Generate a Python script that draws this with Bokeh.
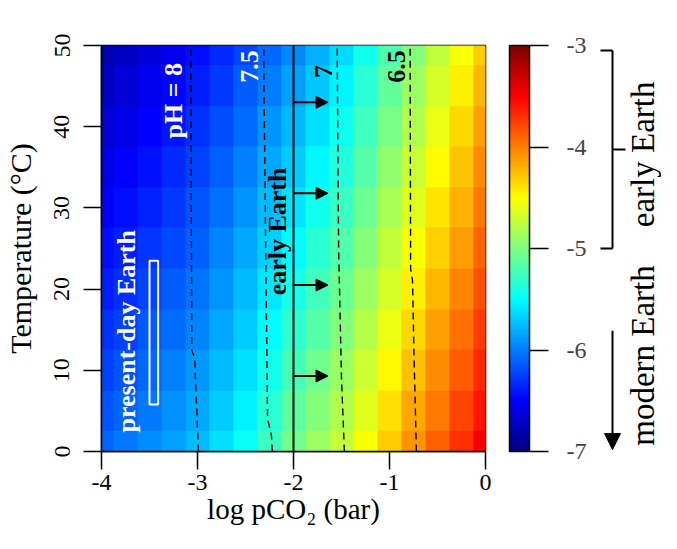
import math
import numpy as np
from bokeh.plotting import figure
from bokeh.layouts import row
from bokeh.models import (Range1d, LinearColorMapper, ColorBar, FixedTicker, Label,
                          Arrow, NormalHead, ColumnDataSource)
from bokeh.core.properties import value
from bokeh.embed import file_html
from bokeh.resources import INLINE

# ---------------- data ----------------
pco2_nodes = [-4.0, -3.75, -3.5, -3.25, -3.0, -2.75, -2.5, -2.25, -2.0,
              -1.75, -1.5, -1.25, -1.0, -0.75, -0.5, -0.25, 0.0]          # log pCO2 (bar)
temp_nodes = [0, 5, 10, 15, 20, 25, 30, 35, 40, 45, 50]                    # Temperature (C)
# log PO4 (molal), one list per temperature
po4_t00 = [-6.10, -6.03, -5.95, -5.86, -5.76, -5.62, -5.46, -5.26, -5.05, -4.88, -4.72, -4.52, -4.30, -4.08, -3.88, -3.69, -3.50]
po4_t05 = [-6.17, -6.10, -6.02, -5.93, -5.83, -5.69, -5.54, -5.34, -5.14, -4.97, -4.81, -4.61, -4.39, -4.17, -3.97, -3.77, -3.58]
po4_t10 = [-6.24, -6.17, -6.09, -6.00, -5.90, -5.76, -5.61, -5.43, -5.23, -5.06, -4.90, -4.70, -4.48, -4.26, -4.05, -3.86, -3.66]
po4_t15 = [-6.31, -6.24, -6.15, -6.07, -5.97, -5.84, -5.69, -5.51, -5.32, -5.16, -4.99, -4.79, -4.57, -4.35, -4.14, -3.94, -3.74]
po4_t20 = [-6.38, -6.31, -6.22, -6.14, -6.04, -5.91, -5.76, -5.59, -5.41, -5.25, -5.08, -4.88, -4.66, -4.44, -4.23, -4.02, -3.82]
po4_t25 = [-6.45, -6.38, -6.29, -6.21, -6.11, -5.98, -5.84, -5.68, -5.51, -5.34, -5.18, -4.98, -4.75, -4.53, -4.32, -4.11, -3.90]
po4_t30 = [-6.52, -6.44, -6.36, -6.27, -6.17, -6.05, -5.92, -5.76, -5.60, -5.43, -5.27, -5.07, -4.84, -4.62, -4.40, -4.19, -3.98]
po4_t35 = [-6.59, -6.51, -6.43, -6.34, -6.24, -6.12, -5.99, -5.84, -5.69, -5.52, -5.36, -5.16, -4.93, -4.71, -4.49, -4.27, -4.06]
po4_t40 = [-6.66, -6.58, -6.49, -6.41, -6.31, -6.20, -6.07, -5.92, -5.78, -5.62, -5.45, -5.25, -5.02, -4.80, -4.58, -4.35, -4.14]
po4_t45 = [-6.73, -6.65, -6.56, -6.48, -6.38, -6.27, -6.14, -6.01, -5.87, -5.71, -5.54, -5.34, -5.11, -4.89, -4.66, -4.44, -4.22]
po4_t50 = [-6.80, -6.72, -6.63, -6.55, -6.45, -6.34, -6.22, -6.09, -5.96, -5.80, -5.63, -5.43, -5.20, -4.98, -4.75, -4.52, -4.30]

# pH contours (dashed)
ph8_x = [-2.99, -3.03, -3.06, -3.07]
ph8_t = [0, 11.5, 12.5, 50]
ph75_x = [-2.22, -2.23, -2.27, -2.29, -2.31, -2.31]
ph75_t = [0, 2, 4, 25, 48, 50]
ph7_x = [-1.47, -1.50, -1.53, -1.545]
ph7_t = [0, 9, 25, 50]
ph65_x = [-0.72, -0.745, -0.76, -0.78, -0.785]
ph65_t = [0, 12, 21, 22.5, 50]

early_pco2 = -2.0                  # solid line
arrow_t = [43.0, 31.8, 20.5, 9.3]  # arrows pointing to higher pCO2
arrow_end = -1.64

box_left, box_right, box_bottom, box_top = -3.50, -3.41, 5.8, 23.5

x_ticks = [-4, -3, -2, -1, 0]
y_ticks = [0, 10, 20, 30, 40, 50]
cb_ticks = [-7, -6, -5, -4, -3]

early_range = [-3, -5]         # log PO4 bracket "early Earth"
early_mid = -4
modern_arrow = [-5.83, -7.03]  # log PO4 arrow "modern Earth"

# ---------------- jet palette ----------------
def jet_hex(t):
    r = min(max(1.5 - abs(4 * t - 3), 0), 1)
    g = min(max(1.5 - abs(4 * t - 2), 0), 1)
    b = min(max(1.5 - abs(4 * t - 1), 0), 1)
    return "#%02x%02x%02x" % (int(r * 255), int(g * 255), int(b * 255))

jet = [jet_hex(i / 255) for i in range(256)]
mapper = LinearColorMapper(palette=jet, low=-7, high=-3)

FONT = "Liberation Serif"

p = figure(width=590, height=533, output_backend="svg", toolbar_location=None,
           x_range=Range1d(-4, 0), y_range=Range1d(0, 50),
           min_border_left=101, min_border_right=105, min_border_top=45, min_border_bottom=82)
p.grid.visible = False
p.outline_line_color = "black"
p.outline_line_width = 1.5
p.background_fill_color = "white"

grid = np.array([po4_t00, po4_t05, po4_t10, po4_t15, po4_t20, po4_t25,
                 po4_t30, po4_t35, po4_t40, po4_t45, po4_t50])
dx = pco2_nodes[1] - pco2_nodes[0]
dt = temp_nodes[1] - temp_nodes[0]
p.image(image=[grid], x=pco2_nodes[0] - dx / 2, y=temp_nodes[0] - dt / 2,
        dw=(pco2_nodes[-1] - pco2_nodes[0]) + dx, dh=(temp_nodes[-1] - temp_nodes[0]) + dt,
        color_mapper=mapper)

for xs, ts in [(ph8_x, ph8_t), (ph75_x, ph75_t), (ph7_x, ph7_t), (ph65_x, ph65_t)]:
    p.line(xs, ts, line_color="black", line_dash="7 5", line_width=1.4)

p.line([early_pco2, early_pco2], [0, 50], line_color="black", line_width=2)

src = ColumnDataSource(dict(x0=[early_pco2] * len(arrow_t), x1=[arrow_end] * len(arrow_t), y=arrow_t))
p.add_layout(Arrow(source=src, x_start="x0", y_start="y", x_end="x1", y_end="y",
                   line_width=2, line_color="black",
                   end=NormalHead(size=12, fill_color="black", line_color="black", line_width=1)))

p.quad(left=[box_left], right=[box_right], bottom=[box_bottom], top=[box_top],
       fill_alpha=0, line_color="white", line_width=2)

# in-plot labels
p.text(x=[-3.25, -2.46, -3.74], y=[43.2, 47.4, 14.8], text=["pH = 8", "7.5", "present-day Earth"],
       angle=math.pi / 2, text_color="white", text_font=value(FONT), text_font_style="bold",
       text_font_size="26px", text_align="center", text_baseline="middle")
p.text(x=[-1.69, -0.93, -2.17], y=[46.8, 47.4, 27.1], text=["7", "6.5", "early Earth"],
       angle=math.pi / 2, text_color="black", text_font=value(FONT), text_font_style="bold",
       text_font_size="26px", text_align="center", text_baseline="middle")

# axes
for ax in (p.xaxis, p.yaxis):
    ax.axis_line_color = "black"
    ax.axis_line_width = 1.5
    ax.major_tick_line_width = 1.5
    ax.major_tick_in = 0
    ax.major_tick_out = 18
    ax.minor_tick_line_color = None
    ax.major_label_text_font = FONT
    ax.major_label_text_font_size = "24px"
    ax.major_label_text_color = "black"
    ax.axis_label_text_font = FONT
    ax.axis_label_text_font_size = "30px"
    ax.axis_label_text_font_style = "normal"
    ax.axis_label_text_color = "black"
p.xaxis.ticker = FixedTicker(ticks=x_ticks)
p.xaxis.major_label_overrides = {t: str(t) for t in x_ticks}
p.xaxis.major_label_standoff = 5
p.xaxis.axis_label_standoff = 0
p.xaxis.axis_label_text_font_size = "29px"
p.xaxis.axis_label = "log pCO\u2082 (bar)"
p.yaxis.ticker = FixedTicker(ticks=y_ticks)
p.yaxis.major_label_orientation = "vertical"
p.yaxis.major_label_standoff = 14
p.yaxis.axis_label_standoff = 15
p.yaxis.axis_label = "Temperature (\u00b0C)"

cb = ColorBar(color_mapper=mapper, ticker=FixedTicker(ticks=cb_ticks),
              major_label_overrides={t: str(t) for t in cb_ticks},
              width=20, height=406, location=(24, 0), padding=0, margin=0,
              bar_line_color="black", bar_line_width=1.5,
              major_tick_line_color="black", major_tick_line_width=1.5,
              major_tick_in=0, major_tick_out=19, minor_tick_line_color=None,
              label_standoff=18, major_label_text_font=FONT, major_label_text_font_size="24px",
              border_line_color=None, background_fill_alpha=0)
p.add_layout(cb, "right")

p.add_layout(Label(x=-0.45, y=53.45, text="log PO\u2084 (molal)", text_font=FONT,
                   text_font_size="30px", text_align="center", text_baseline="middle"))

# ---------------- right strip: early / modern Earth ranges on the log PO4 scale ----------------
# frame spans 416 px for the colour-bar scale (101.5 px per log unit) with 5 px spare on each end
pad = 5 / 101.5
q = figure(width=71, height=533, output_backend="svg", toolbar_location=None,
           x_range=Range1d(590, 661), y_range=Range1d(-7 - pad, -3 + pad),
           x_axis_location=None, y_axis_location=None,
           min_border_left=0, min_border_right=0, min_border_top=40, min_border_bottom=77)
q.grid.visible = False
q.outline_line_color = None

bx, bl, br = 612, 600, 625
q.segment(x0=[bl, bx, bx, bl], y0=[early_range[0], early_range[0], early_mid, early_range[1]],
          x1=[bx, bx, br, bx], y1=[early_range[0], early_range[1], early_mid, early_range[1]],
          line_color="black", line_width=2)
q.add_layout(Arrow(x_start=bx, y_start=modern_arrow[0], x_end=bx, y_end=modern_arrow[1],
                   line_width=2, line_color="black",
                   end=NormalHead(size=16, fill_color="black", line_color="black", line_width=1)))
q.text(x=[642, 642], y=[-4.05, -6.08], text=["early Earth", "modern Earth"], angle=math.pi / 2,
       text_color="black", text_font=value(FONT), text_font_size="33px",
       text_align="center", text_baseline="middle")

layout = row(p, q, spacing=0)
open("out.html", "w").write(file_html(layout, INLINE))
